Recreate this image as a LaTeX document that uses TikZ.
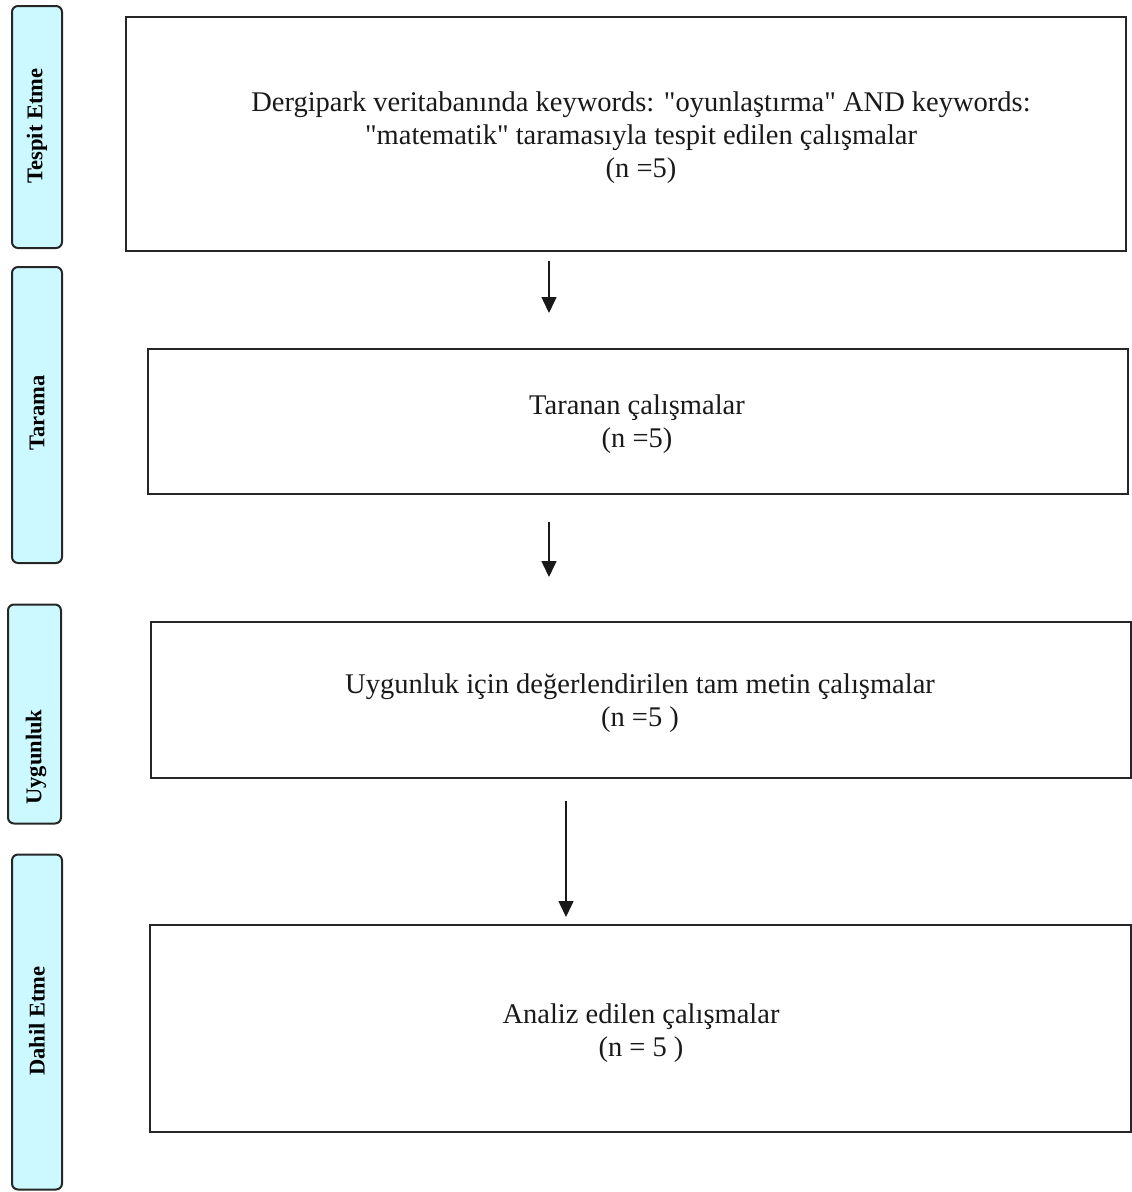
\documentclass[tikz,border=0pt]{standalone}
\usepackage{fontspec}
\setmainfont{Liberation Serif}
\usetikzlibrary{arrows.meta}
\definecolor{stagefill}{RGB}{204,249,255}
\tikzset{
  stagebox/.style={draw=black!85, line width=2pt, fill=stagefill, rounded corners=6pt, minimum width=50pt, inner sep=0pt},
  stagelabel/.style={rotate=90, font=\fontsize{22.5}{26}\selectfont\bfseries, inner sep=0pt},
  mainbox/.style={draw=black!85, line width=2pt, inner sep=0pt},
  maintext/.style={align=center, font=\fontsize{28.5}{33}\selectfont, inner sep=0pt, text=black!90},
  flow/.style={line width=1.5pt, draw=black!90, -{Triangle[length=16pt,width=15pt]}}
}
\begin{document}
\begin{tikzpicture}[x=1pt,y=-1pt]
\useasboundingbox (0,0) rectangle (1132,1192);

% stage bars on the left
\node[stagebox, minimum height=242pt] (s1) at (37,127) {};
\node[stagebox, minimum height=296pt] (s2) at (37,415) {};
\node[stagebox, minimum width=53pt, minimum height=219pt] (s3) at (34.5,714) {};
\node[stagebox, minimum height=335pt] (s4) at (37,1022) {};
\node[stagelabel] (l1) at (37,126) {Tespit Etme};
\node[stagelabel] (l2) at (37,413) {Tarama};
\node[stagelabel] (l3) at (36,757) {Uygunluk};
\node[stagelabel] (l4) at (37,1021) {Dahil Etme};

% flow boxes
\node[mainbox, minimum width=1000pt, minimum height=234pt] (b1) at (626,134) {};
\node[mainbox, minimum width=980pt, minimum height=145pt] (b2) at (638,421.5) {};
\node[mainbox, minimum width=980pt, minimum height=156pt] (b3) at (641,700) {};
\node[mainbox, minimum width=981pt, minimum height=207pt] (b4) at (640.5,1028.5) {};

\node[maintext] (t1) at (641,138) {Dergipark veritabanında keywords: \textquotedbl oyunlaştırma\textquotedbl{} AND keywords:\\\textquotedbl matematik\textquotedbl{} taramasıyla tespit edilen çalışmalar\\(n =5)};
\node[maintext] (t2) at (637,424) {Taranan çalışmalar\\(n =5)};
\node[maintext] (t3) at (640,703) {Uygunluk için değerlendirilen tam metin çalışmalar\\(n =5 )};
\node[maintext] (t4) at (641,1033) {Analiz edilen çalışmalar\\(n = 5 )};

% connectors between the stages
\coordinate (a1s) at (549,261);
\coordinate (a1e) at (549,313);
\coordinate (a2s) at (549,522);
\coordinate (a2e) at (549,577);
\coordinate (a3s) at (566,801);
\coordinate (a3e) at (566,917);
\draw[flow] (a1s) -- (a1e);
\draw[flow] (a2s) -- (a2e);
\draw[flow] (a3s) -- (a3e);
\end{tikzpicture}
\end{document}
